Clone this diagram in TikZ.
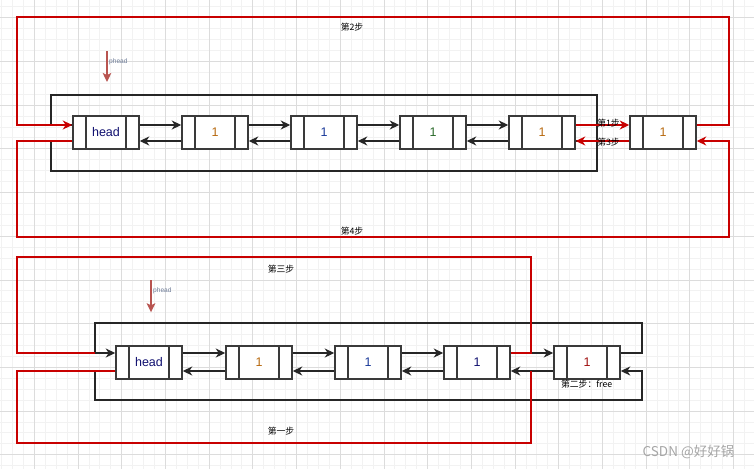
\documentclass[tikz,border=0pt]{standalone}
\usepackage{fontspec}
\setmainfont{Liberation Sans}
\newfontfamily\cjk{Noto Sans CJK SC}
\usetikzlibrary{arrows.meta}
\definecolor{gridmaj}{HTML}{DCDCDC}
\definecolor{gridmin}{HTML}{F2F2F2}
\definecolor{redline}{HTML}{C80000}
\definecolor{pheadc}{HTML}{B85450}
\definecolor{pheadtxt}{HTML}{6C7A96}
\definecolor{nodeborder}{HTML}{3A3A3A}
\definecolor{txnavy}{HTML}{101070}
\definecolor{txorange}{HTML}{B86A10}
\definecolor{txblue}{HTML}{1A3A9A}
\definecolor{txgreen}{HTML}{2A6A2A}
\definecolor{txred}{HTML}{A01010}
\definecolor{wmgray}{HTML}{A6A6A6}
\begin{document}
\begin{tikzpicture}[x=1pt,y=-1pt,
  lnode/.style={draw=nodeborder, line width=1.5pt, fill=white, minimum width=66pt,
    minimum height=33pt, inner sep=0pt, font=\fontsize{12.5}{14}\selectfont,
    path picture={\draw[nodeborder, line width=1.4pt]
      ([xshift=13pt]path picture bounding box.north west) -- ([xshift=13pt]path picture bounding box.south west)
      ([xshift=-13pt]path picture bounding box.north east) -- ([xshift=-13pt]path picture bounding box.south east);}},
  link/.style={draw=black!85, line width=1.2pt},
  linkarrow/.style={link, -{Stealth[length=9.5pt,width=9pt,inset=3pt]}},
  redlink/.style={draw=redline, line width=1.8pt},
  redarrow/.style={redlink, -{Stealth[length=9.5pt,width=9pt,inset=3pt]}},
  steplabel/.style={font=\cjk\fontsize{8.8}{10}\selectfont, inner sep=0pt},
  pheadarrow/.style={draw=pheadc, line width=1.8pt, -{Stealth[length=9pt,width=8.5pt,inset=2pt]}},
  pheadlabel/.style={font=\fontsize{6.6}{7}\selectfont, text=pheadtxt, inner sep=0pt, anchor=west}
]
\useasboundingbox (0,0) rectangle (754,469);
\fill[white] (0,0) rectangle (754,469);
% grid
\foreach \i in {0,...,69} {
  \draw[gridmin, line width=0.8pt] ({1.525+\i*10.925},0) -- ({1.525+\i*10.925},469);
}
\foreach \i in {0,...,43} {
  \draw[gridmin, line width=0.8pt] (0,{6.78+\i*10.925}) -- (754,{6.78+\i*10.925});
}
\foreach \i in {0,...,17} {
  \draw[gridmaj, line width=0.8pt] ({34.3+\i*43.7},0) -- ({34.3+\i*43.7},469);
}
\foreach \i in {0,...,10} {
  \draw[gridmaj, line width=0.8pt] (0,{17.7+\i*43.7}) -- (754,{17.7+\i*43.7});
}

% ---------- top diagram ----------
\node[lnode, text=txnavy] (h1) at (106,132.5) {head};
\node[lnode, text=txorange] (a2) at (215,132.5) {1};
\node[lnode, text=txblue] (a3) at (324,132.5) {1};
\node[lnode, text=txgreen] (a4) at (433,132.5) {1};
\node[lnode, text=txorange] (a5) at (542,132.5) {1};
\node[lnode, text=txorange] (a6) at (663,132.5) {1};

\coordinate (bTR) at (597,95);
\coordinate (bTL) at (51,95);
\coordinate (bBR) at (597,171);
\coordinate (bBL) at (51,171);
\coordinate (bMid) at (597,125);

% black circular links (top)
\draw[link] ([yshift=7.5pt]a5.east) -| (bTR) -- (bTL) |- ([yshift=7.5pt]h1.west);
\draw[link] ([yshift=-8.5pt]h1.west) -| (bBL) -- (bBR) |- ([yshift=-8.5pt]a5.east);
\draw[link] (bMid) -- (bBR);

% forward / backward links (top)
\foreach \p/\q in {h1/a2,a2/a3,a3/a4,a4/a5} {
  \draw[linkarrow] ([yshift=7.5pt]\p.east) -- ([yshift=7.5pt]\q.west);
  \draw[linkarrow] ([yshift=-8.5pt]\q.west) -- ([yshift=-8.5pt]\p.east);
}

% red steps (top)
\coordinate (rTR) at (729,17);
\coordinate (rTL) at (17,17);
\coordinate (rBR) at (729,237);
\coordinate (rBL) at (17,237);
\draw[redarrow] ([yshift=7.5pt]a5.east) -- ([yshift=7.5pt]a6.west);
\draw[redarrow] ([yshift=-8.5pt]a6.west) -- ([yshift=-8.5pt]a5.east);
\draw[redarrow] ([yshift=7.5pt]a6.east) -| (rTR) -- (rTL) |- ([yshift=7.5pt]h1.west);
\draw[redarrow] ([yshift=-8.5pt]h1.west) -| (rBL) -- (rBR) |- ([yshift=-8.5pt]a6.east);

\node[steplabel] (s1) at (608.5,123) {第1步};
\node[steplabel] (s3) at (608.5,142) {第3步};
\node[steplabel] (s2) at (352,27.5) {第2步};
\node[steplabel] (s4) at (352,231) {第4步};

% phead (top)
\coordinate (p1s) at (107,51);
\coordinate (p1e) at (107,82);
\draw[pheadarrow] (p1s) -- (p1e);
\node[pheadlabel] (p1l) at (109,62) {phead};

% ---------- bottom diagram ----------
\node[lnode, text=txnavy] (h2) at (149,362.5) {head};
\node[lnode, text=txorange] (b2) at (259,362.5) {1};
\node[lnode, text=txblue] (b3) at (368,362.5) {1};
\node[lnode, text=txnavy] (b4) at (477,362.5) {1};
\node[lnode, text=txred] (b5) at (587,362.5) {1};

\coordinate (cTR) at (642,323);
\coordinate (cTL) at (95,323);
\coordinate (cBR) at (642,400);
\coordinate (cBL) at (95,400);

% black circular links (bottom)
\draw[linkarrow] ([yshift=9.5pt]b5.east) -| (cTR) -- (cTL) |- ([yshift=9.5pt]h2.west);
\draw[linkarrow] ([yshift=-8.5pt]h2.west) -| (cBL) -- (cBR) |- ([yshift=-8.5pt]b5.east);

\foreach \p/\q in {h2/b2,b2/b3,b3/b4,b4/b5} {
  \draw[linkarrow] ([yshift=9.5pt]\p.east) -- ([yshift=9.5pt]\q.west);
  \draw[linkarrow] ([yshift=-8.5pt]\q.west) -- ([yshift=-8.5pt]\p.east);
}

% red steps (bottom)
\coordinate (dTR) at (531,257);
\coordinate (dTL) at (17,257);
\coordinate (dBR) at (531,443);
\coordinate (dBL) at (17,443);
\coordinate (dTend) at (95,353);
\coordinate (dBend) at (531,371);
\draw[redlink] ([yshift=9.5pt]b4.east) -| (dTR) -- (dTL) |- (dTend);
\draw[redlink] ([yshift=-8.5pt]h2.west) -| (dBL) -- (dBR) -- (dBend);

\node[steplabel] (t3) at (281,268.7) {第三步};
\node[steplabel] (t1) at (281,431) {第一步};
\node[steplabel] (t2) at (586.7,384) {第二步：free};

% phead (bottom)
\coordinate (p2s) at (151,280);
\coordinate (p2e) at (151,312.3);
\draw[pheadarrow] (p2s) -- (p2e);
\node[pheadlabel] (p2l) at (153,291) {phead};

% watermark
\node[font=\cjk\fontsize{13.5}{15}\selectfont, text=wmgray, inner sep=0pt] (wm) at (688.5,452) {CSDN @好好锅};
\end{tikzpicture}
\end{document}
